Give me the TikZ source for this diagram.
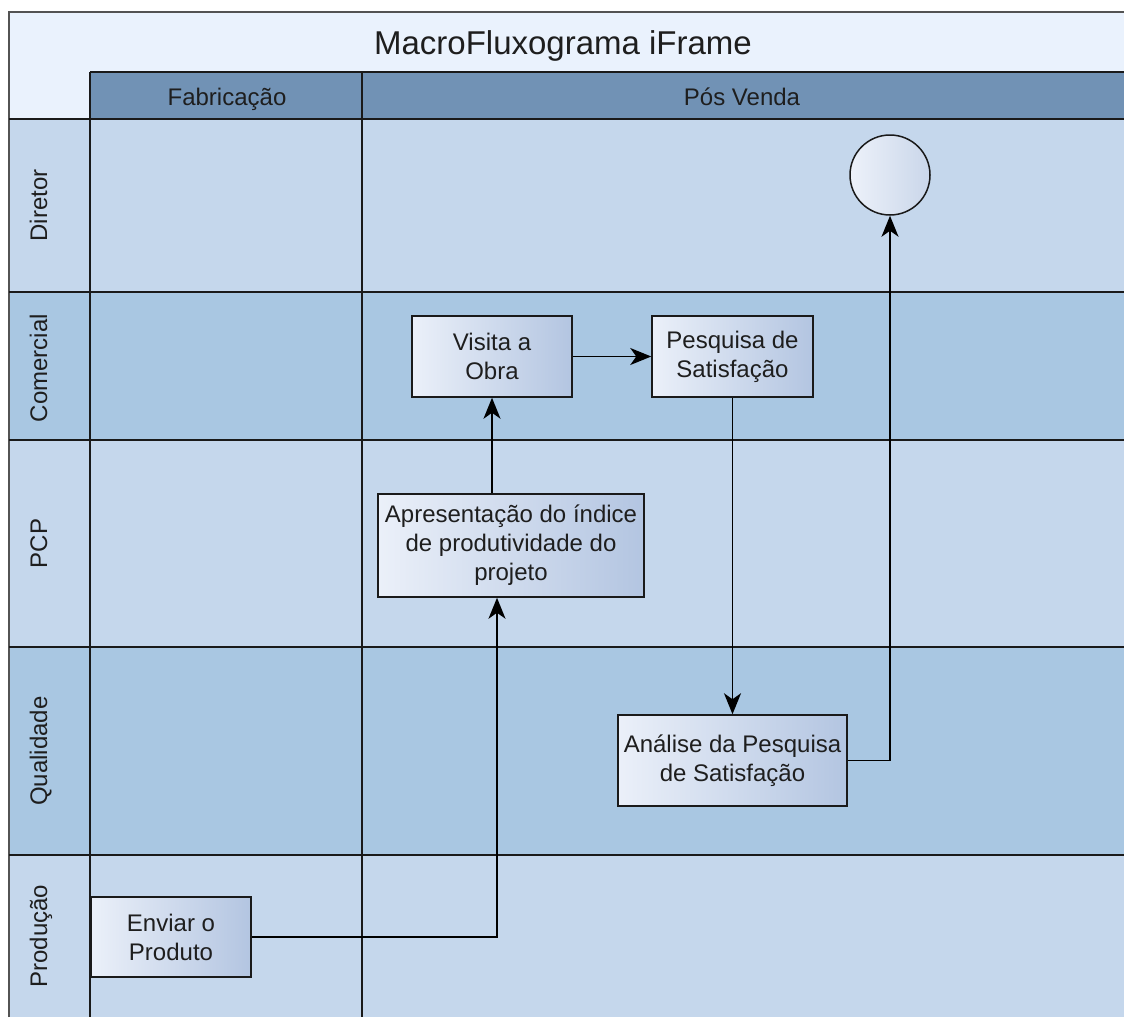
\documentclass[tikz,border=0pt]{standalone}
\usepackage{fontspec}
\setmainfont{Liberation Sans}
\usetikzlibrary{arrows.meta}

\definecolor{titlebg}{HTML}{EAF2FD}
\definecolor{headbg}{HTML}{7192B5}
\definecolor{lanelight}{HTML}{C5D7EC}
\definecolor{lanedark}{HTML}{A9C7E2}
\definecolor{gridline}{HTML}{1A1A1A}
\definecolor{boxlight}{HTML}{EBF0F9}
\definecolor{boxdark}{HTML}{B3C5E1}
\definecolor{inkcol}{HTML}{1E1E1E}

\tikzset{
  grid/.style={draw=gridline, line width=1.7pt},
  lanelabel/.style={rotate=90, anchor=base, text=inkcol, font=\fontsize{24}{28}\selectfont},
  headlabel/.style={anchor=base, text=inkcol, font=\fontsize{24}{28}\selectfont},
  task/.style={draw=gridline, line width=1.5pt, rectangle, inner sep=2pt,
    left color=boxlight, right color=boxdark, align=center, text=inkcol,
    font=\fontsize{24}{29}\selectfont},
  endevent/.style={draw=gridline, line width=1.5pt, circle, inner sep=0pt,
    minimum size=80pt, left color=boxlight!90!white, right color=boxdark!70!white},
  flow/.style={draw=black, line width=1.8pt,
    -{Stealth[length=21pt, width=17pt, inset=6pt]}},
}

\begin{document}
\begin{tikzpicture}[x=1pt, y=-1pt]
  \useasboundingbox (0,0) rectangle (1124,1017);
  \fill[white] (0,0) rectangle (1124,1017);

  % title band and header row
  \fill[titlebg] (9,12) rectangle (1124,119);
  \fill[headbg] (90,72) rectangle (1124,119);

  % lanes
  \fill[lanelight] (9,119) rectangle (1124,292);
  \fill[lanedark]  (9,292) rectangle (1124,440);
  \fill[lanelight] (9,440) rectangle (1124,647);
  \fill[lanedark]  (9,647) rectangle (1124,855);
  \fill[lanelight] (9,855) rectangle (1124,1017);

  % grid lines
  \draw[grid, draw=gridline!75] (9,1017) -- (9,12) -- (1124,12);
  \draw[grid] (90,72) -- (1124,72);
  \foreach \yy in {119,292,440,647,855}
    \draw[grid] (9,\yy) -- (1124,\yy);
  \draw[grid] (90,72) -- (90,1017);
  \draw[grid] (362,72) -- (362,1017);

  % texts of the frame
  \node[text=inkcol, font=\fontsize{33}{38}\selectfont, anchor=base] (title) at (563,54) {MacroFluxograma iFrame};
  \node[headlabel] (hfab) at (227,105) {Fabricação};
  \node[headlabel] (hpos) at (742,105) {Pós Venda};
  \node[lanelabel] (ldir) at (47,205.5) {Diretor};
  \node[lanelabel] (lcom) at (47,368) {Comercial};
  \node[lanelabel] (lpcp) at (47,543.5) {PCP};
  \node[lanelabel] (lqua) at (47,751) {Qualidade};
  \node[lanelabel] (lpro) at (47,936) {Produção};

  % activities
  \node[task, minimum width=160pt, minimum height=81pt] (vis) at (492,356.5) {Visita a\\Obra};
  \node[task, minimum width=161pt, minimum height=81pt] (pes) at (732.5,356.5) {Pesquisa de\\Satisfação};
  \node[task, minimum width=266pt, minimum height=103pt] (apr) at (511,545.5) {Apresentação do índice\\de produtividade do\\projeto};
  \node[task, minimum width=229pt, minimum height=91pt] (ana) at (732.5,760.5) {Análise da Pesquisa\\de Satisfação};
  \node[task, minimum width=160pt, minimum height=80pt] (env) at (171,937) {Enviar o\\Produto};
  \node[endevent] (fim) at (890,175) {};

  % sequence flows
  \draw[flow] (env.east) -| ([xshift=-14pt]apr.south);
  \draw[flow] (apr.north -| vis.south) -- (vis.south);
  \draw[flow] (vis.east) -- (pes.west);
  \draw[flow] (pes.south) -- (ana.north);
  \draw[flow] (ana.east) -| (fim.south);
\end{tikzpicture}
\end{document}
